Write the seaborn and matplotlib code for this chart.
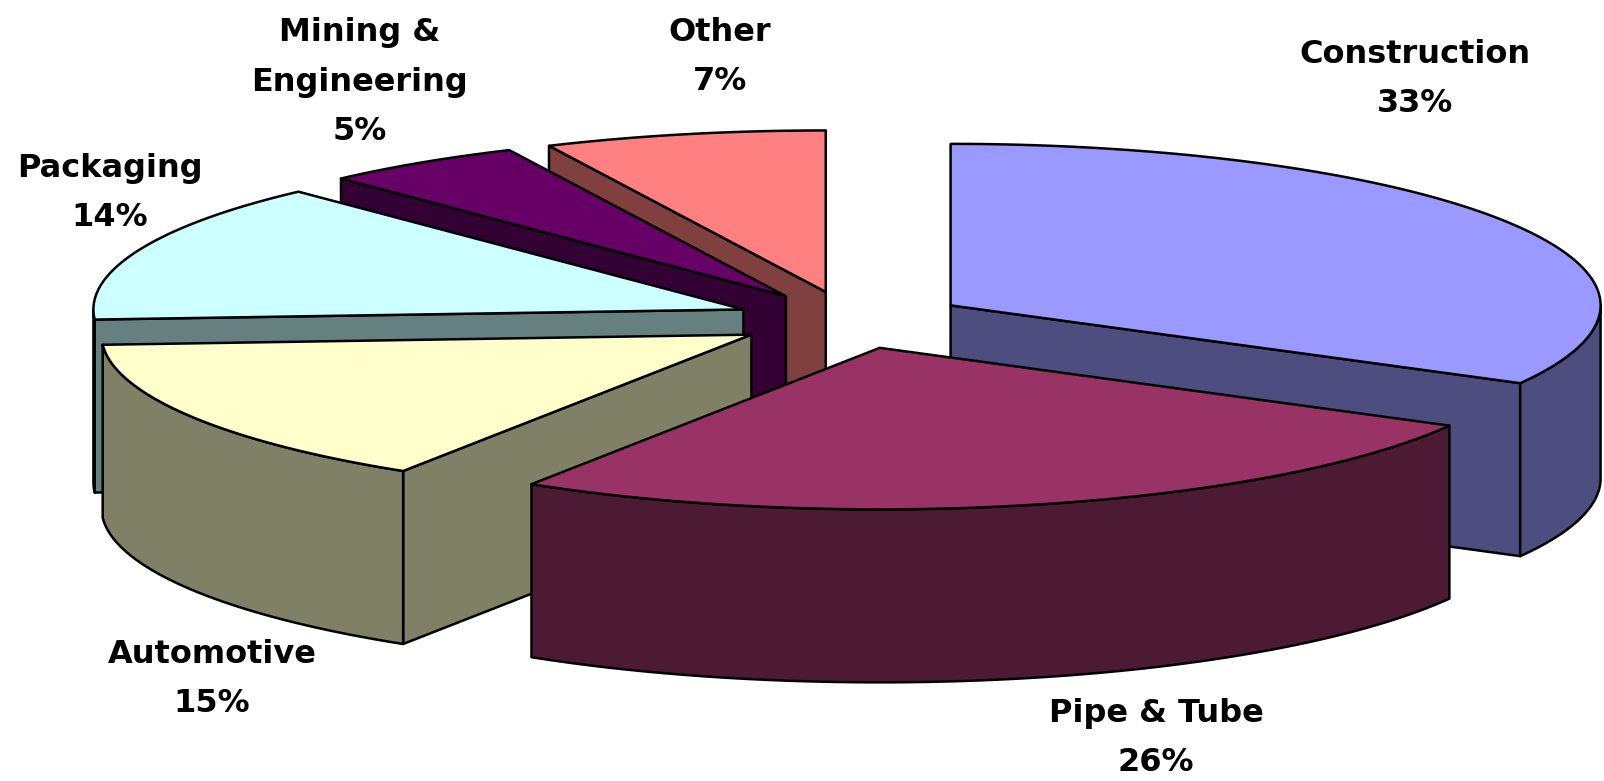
import numpy as np
import matplotlib
matplotlib.use("Agg")
import matplotlib.pyplot as plt
import matplotlib.colors as mcolors
from matplotlib.patches import Polygon
import seaborn as sns

# ---- data ----
categories = ["Construction", "Pipe & Tube", "Automotive", "Packaging",
              "Mining &\nEngineering", "Other"]
shares = [33, 26, 15, 14, 5, 7]
top_colors = ["#9999FF", "#993366", "#FFFFCC", "#CCFFFF", "#660066", "#FF8080"]

# ---- layout (label anchors, px) ----
label_anchor = [(1415, 79), (1156, 738), (212, 679), (110, 193), (360, 82), (720, 57)]

sns.set_theme(style="white")
plt.rcParams['font.family'] = ['DejaVu Sans']

W, H = 1604, 781
fig = plt.figure(figsize=(W / 100, H / 100), dpi=100)
ax = fig.add_axes([0, 0, 1, 1])
ax.set_xlim(0, W)
ax.set_ylim(H, 0)
ax.axis("off")

cx, cy = 851.0, 320.0
rx, ry = 650.0, 161.5
depth = 173.0
explode = 0.178
lw = 1.8


def rim(c, th):
    return np.column_stack([c[0] + rx * np.sin(th), c[1] - ry * np.cos(th)])


frac = np.array(shares, dtype=float) / sum(shares)
bounds = np.concatenate([[0.0], np.cumsum(frac)]) * 2 * np.pi

slices = []
for i in range(len(shares)):
    t1, t2 = bounds[i], bounds[i + 1]
    tm = 0.5 * (t1 + t2)
    c = (cx + explode * rx * np.sin(tm), cy - explode * ry * np.cos(tm))
    slices.append((i, t1, t2, tm, c))

order = sorted(slices, key=lambda s: -np.cos(s[3]))

for i, t1, t2, tm, c in order:
    top = mcolors.to_rgb(top_colors[i])
    side = tuple(v * 0.5 for v in top)
    apex = np.array(c)
    apex_b = apex + [0, depth]
    # radial cut faces
    for th, vis in ((t1, np.sin(t1) < -1e-9), (t2, np.sin(t2) > 1e-9)):
        if vis:
            p = rim(c, np.array([th]))[0]
            poly = [apex, p, p + [0, depth], apex_b]
            ax.add_patch(Polygon(poly, closed=True, facecolor=side, edgecolor="black",
                                 linewidth=lw, joinstyle="round"))
    # outer wall (front half only)
    a, b = max(t1, np.pi / 2), min(t2, 3 * np.pi / 2)
    if b > a:
        th = np.linspace(a, b, 200)
        upper = rim(c, th)
        lower = upper + [0, depth]
        poly = np.vstack([upper, lower[::-1]])
        ax.add_patch(Polygon(poly, closed=True, facecolor=side, edgecolor="black",
                             linewidth=lw, joinstyle="round"))
    # top face
    th = np.linspace(t1, t2, 300)
    poly = np.vstack([apex, rim(c, th)])
    ax.add_patch(Polygon(poly, closed=True, facecolor=top, edgecolor="black",
                         linewidth=lw, joinstyle="round"))

for cat, s, (lx, ly) in zip(categories, shares, label_anchor):
    ax.text(lx, ly, f"{cat}\n{s}%", ha="center", va="center", fontsize=23,
            fontweight="bold", color="black", linespacing=1.75)

fig.savefig("out.png", dpi=100)
